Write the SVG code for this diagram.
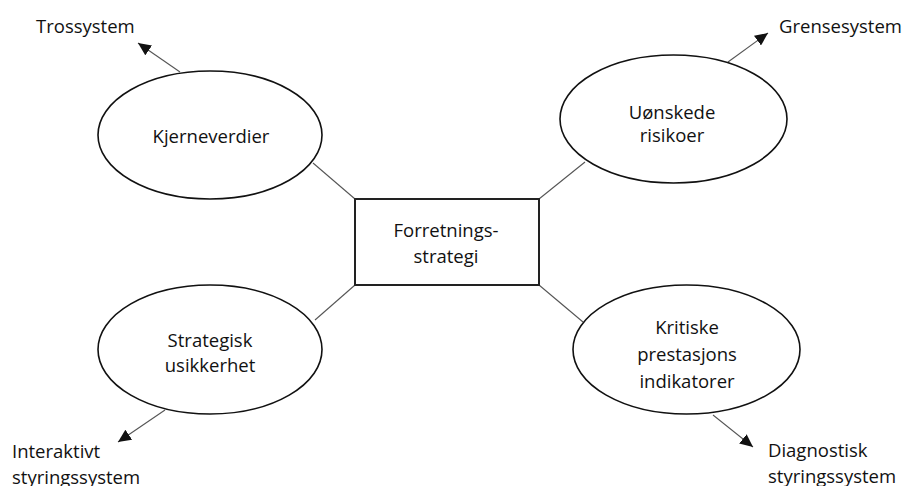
<svg xmlns="http://www.w3.org/2000/svg" width="904" height="486" viewBox="0 0 904 486">
  <style>
    text { font-family: "Open Sans", "Noto Sans", sans-serif; font-size: 18.5px; fill: #111; }
    .c { text-anchor: middle; }
    .node { fill: #fff; stroke: #111; stroke-width: 1.6; }
    .box { fill: #fff; stroke: #222; stroke-width: 2; }
    .link { stroke: #555; stroke-width: 1.1; fill: none; }
    .arrow { stroke: #555; stroke-width: 1.1; fill: none; marker-end: url(#head); }
  </style>
  <defs>
    <marker id="head" markerUnits="userSpaceOnUse" markerWidth="14" markerHeight="12" refX="13" refY="6" orient="auto">
      <path d="M0,0 L13,6 L0,12 Z" fill="#111"/>
    </marker>
  </defs>

  <rect width="904" height="486" fill="#fff"/>

  <!-- connectors -->
  <g id="connectors">
    <line class="link" x1="355" y1="199" x2="313" y2="163"/>
    <line class="link" x1="539" y1="199" x2="585" y2="162"/>
    <line class="link" x1="355" y1="285" x2="315" y2="320"/>
    <line class="link" x1="539" y1="285" x2="583" y2="322"/>
    <line class="arrow" x1="180" y1="72" x2="138" y2="43"/>
    <line class="arrow" x1="728" y1="62" x2="768" y2="33"/>
    <line class="arrow" x1="165" y1="410" x2="118" y2="442"/>
    <line class="arrow" x1="713" y1="415" x2="753" y2="447"/>
  </g>

  <!-- centre -->
  <g id="strategi">
    <rect class="box" x="355" y="199" width="184" height="86"/>
    <text class="c" x="446" y="237">Forretnings-</text>
    <text class="c" x="446" y="263">strategi</text>
  </g>

  <g id="kjerneverdier">
    <ellipse class="node" cx="210" cy="135" rx="112" ry="64"/>
    <text class="c" x="211" y="143">Kjerneverdier</text>
  </g>

  <g id="risikoer">
    <ellipse class="node" cx="673.5" cy="119" rx="113.5" ry="64"/>
    <text class="c" x="672" y="119">Uønskede</text>
    <text class="c" x="672" y="142">risikoer</text>
  </g>

  <g id="usikkerhet">
    <ellipse class="node" cx="210" cy="349.5" rx="112" ry="64.5"/>
    <text class="c" x="210" y="347">Strategisk</text>
    <text class="c" x="210" y="372">usikkerhet</text>
  </g>

  <g id="indikatorer">
    <ellipse class="node" cx="686.5" cy="349.5" rx="113.5" ry="64.5"/>
    <text class="c" x="687" y="334">Kritiske</text>
    <text class="c" x="687" y="361">prestasjons</text>
    <text class="c" x="687" y="388">indikatorer</text>
  </g>

  <!-- control system labels -->
  <g id="trossystem">
    <text x="36" y="33">Trossystem</text>
  </g>
  <g id="grensesystem">
    <text x="779" y="33">Grensesystem</text>
  </g>
  <g id="interaktivt">
    <text x="12" y="458">Interaktivt</text>
    <text x="12" y="484">styringssystem</text>
  </g>
  <g id="diagnostisk">
    <text x="768" y="457">Diagnostisk</text>
    <text x="768" y="483">styringssystem</text>
  </g>
</svg>
